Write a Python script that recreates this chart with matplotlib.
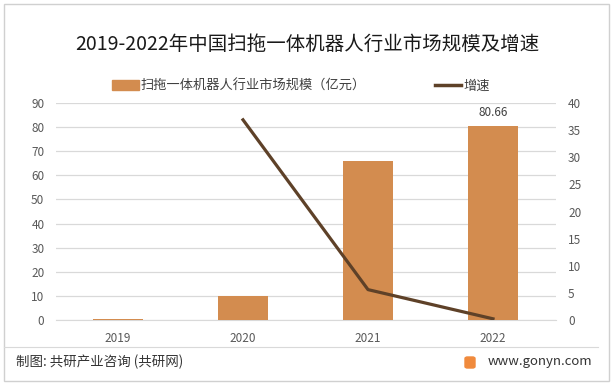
import matplotlib.pyplot as plt
from matplotlib.patches import Rectangle, FancyBboxPatch
from matplotlib.lines import Line2D

plt.rcParams['font.family'] = ['Noto Sans CJK SC', 'DejaVu Sans']

years = ['2019', '2020', '2021', '2022']
scale = [0.26, 10.0, 66.0, 80.66]     # 市场规模（亿元）
growth = [None, 36.9, 5.6, 0.22]     # 增速

bar_color = '#D38C4F'
line_color = '#5E4128'
grid_color = '#D9D9D9'
tick_color = '#595959'

fig = plt.figure(figsize=(6.15, 3.85), dpi=100)
W, H = 615, 385
ax = fig.add_axes([55.5 / W, 1 - 320 / H, 500 / W, 217 / H])
x = list(range(len(years)))
ax.bar(x, scale, width=0.4, color=bar_color, zorder=3)
ax.set_xlim(-0.5, 3.5)
ax.set_ylim(0, 90)
ax.set_yticks(range(0, 91, 10))
ax.grid(axis='y', color=grid_color, linewidth=0.9, zorder=0)
ax.set_xticks(x)
ax.set_xticklabels(years)
for s in ax.spines.values():
    s.set_visible(False)
ax.spines['bottom'].set_visible(True)
ax.spines['bottom'].set_color(grid_color)
ax.tick_params(length=0, labelsize=8.5, colors=tick_color, pad=9)
ax.tick_params(axis='y', pad=8)
ax.annotate(f'{scale[3]:.2f}', (3, scale[3]), xytext=(0, 5), textcoords='offset points',
            ha='center', va='bottom', fontsize=8.5, color='#404040')

ax2 = ax.twinx()
gx = [i for i, g in zip(x, growth) if g is not None]
gy = [g for g in growth if g is not None]
ax2.plot(gx, gy, color=line_color, linewidth=2.3, zorder=4)
ax2.set_ylim(0, 40)
ax2.set_yticks(range(0, 41, 5))
for s in ax2.spines.values():
    s.set_visible(False)
ax2.tick_params(length=0, labelsize=8.5, colors=tick_color, pad=9)

fig.text(0.5, 1 - 44 / H, '2019-2022年中国扫拖一体机器人行业市场规模及增速',
         ha='center', va='center', fontsize=14, color='#1a1a1a')

handles = [Rectangle((0, 0), 1, 1, color=bar_color),
           Line2D([0], [0], color=line_color, linewidth=2.5)]
fig.legend(handles, ['扫拖一体机器人行业市场规模（亿元）', '增速'],
           loc='center', bbox_to_anchor=(301 / W, 1 - 86 / H), ncol=2, frameon=False,
           fontsize=9.5, handlelength=2.0, handleheight=0.7, columnspacing=5.2, handletextpad=0.15,
           labelcolor='#404040')

# 外框与底部来源
fig.add_artist(Rectangle((4 / W, 4 / H), 605 / W, 377 / H, transform=fig.transFigure,
                         fill=False, edgecolor='#D0D0D0', linewidth=1))
fig.add_artist(Line2D([4 / W, 598 / W], [1 - 347 / H] * 2, transform=fig.transFigure,
                      color='#D9D9D9', linewidth=0.8))
fig.text(16 / W, 1 - 362 / H, '制图: 共研产业咨询 (共研网)', ha='left', va='center',
         fontsize=9.7, color='#333333')
fig.add_artist(FancyBboxPatch((465 / W, 1 - 368 / H), 10 / W, 11 / H, transform=fig.transFigure,
                              boxstyle='round,pad=0,rounding_size=0.004', color='#F08A3C'))
fig.text(488 / W, 1 - 362 / H, 'www.gonyn.com', ha='left', va='center',
         fontsize=9.5, color='#333333')

fig.savefig('out.png', dpi=100)
